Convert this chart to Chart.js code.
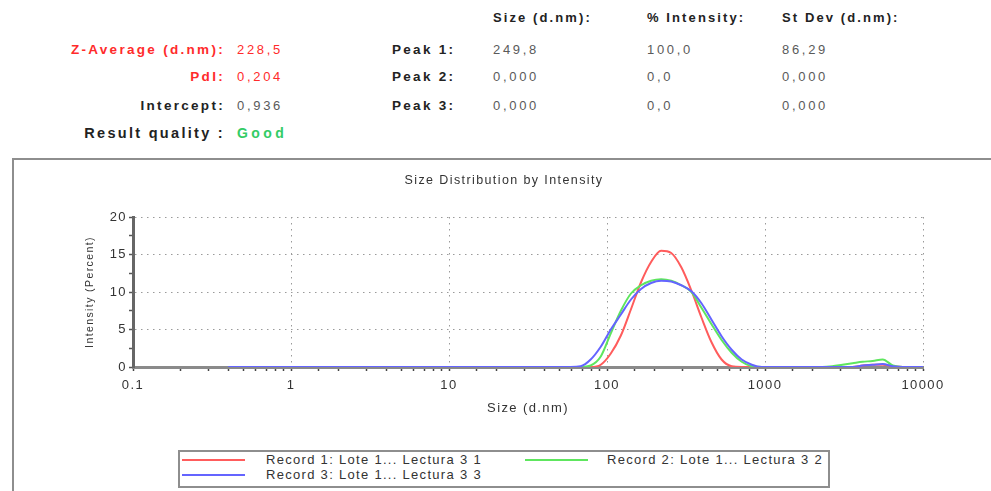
<!DOCTYPE html>
<html>
<head>
<meta charset="utf-8">
<script src="https://cdn.jsdelivr.net/npm/chart.js@4/dist/chart.umd.min.js"></script>
<style>
  html, body { margin:0; padding:0; background:#fff; width:991px; height:491px; overflow:hidden;
    font-family:"Liberation Sans", Arial, sans-serif; }
  .t { position:absolute; white-space:nowrap; font-size:13px; line-height:16px; }
  .b { font-weight:bold; color:#222; letter-spacing:2.3px; font-size:13.5px; }
  .h { font-weight:bold; color:#222; letter-spacing:2.1px; }
  .v { color:#5a5a5a; letter-spacing:2.7px; }
  .red { color:#ff2b2b; }
  .grn { color:#33cc66; font-weight:bold; letter-spacing:3.4px; font-size:14px; }
  .rq { font-size:14.5px; letter-spacing:2.3px; }
  #panel { position:absolute; left:12px; top:158px; width:1000px; height:400px;
    border:2px solid #8e8e8e; box-sizing:border-box; }
  #wrap { position:absolute; left:0; top:158px; width:991px; height:333px; }
  #legend { position:absolute; left:178px; top:450px; width:652px; height:38px;
    border:2px solid #8e8e8e; box-sizing:border-box; background:#fff; }
  .li { position:absolute; font-size:13px; line-height:16px; color:#333; letter-spacing:1.3px; white-space:nowrap; }
  .ll { position:absolute; height:2px; }
</style>
</head>
<body>
<div id="panel"></div>
<div id="header"></div>
<div id="wrap"><canvas id="c"></canvas></div>
<div id="legend"></div>
<script>
// ---------- data ----------
const sizes = [0.4, 0.4632, 0.5365, 0.6213, 0.7195, 0.8332, 0.9649, 1.117, 1.294, 1.499,
  1.736, 2.01, 2.328, 2.696, 3.122, 3.615, 4.187, 4.849, 5.615, 6.503,
  7.531, 8.721, 10.1, 11.7, 13.54, 15.69, 18.17, 21.04, 24.36, 28.21,
  32.67, 37.84, 43.82, 50.75, 58.77, 68.06, 78.82, 91.28, 105.7, 122.4,
  141.8, 164.2, 190.1, 220.2, 255.0, 295.3, 342.0, 396.1, 458.7, 531.2,
  615.1, 712.4, 825.0, 955.4, 1106, 1281, 1484, 1718, 1990, 2305,
  2669, 3091, 3580, 4145, 4801, 5560, 6439, 7456, 8635, 10000];

const record1 = [0,0,0,0,0,0,0,0,0,0,
  0,0,0,0,0,0,0,0,0,0,
  0,0,0,0,0,0,0,0,0,0,
  0,0,0,0,0,0,0,0.3,1.8,4.2,
  7.7,11.3,14.0,15.5,15.2,13.3,10.2,6.6,3.3,1.0,
  0.1,0,0,0,0,0,0,0,0,0,
  0,0,0,0.2,0.3,0.3,0.1,0,0,0];

const record2 = [0,0,0,0,0,0,0,0,0,0,
  0,0,0,0,0,0,0,0,0,0,
  0,0,0,0,0,0,0,0,0,0,
  0,0,0,0,0,0,0.2,1.4,4.5,7.5,
  9.8,10.9,11.5,11.7,11.5,10.9,10.0,7.9,5.7,3.6,
  1.9,0.7,0.1,0,0,0,0,0,0,0,
  0.1,0.3,0.5,0.7,0.8,1.0,0.2,0,0,0];

const record3 = [0,0,0,0,0,0,0,0,0,0,
  0,0,0,0,0,0,0,0,0,0,
  0,0,0,0,0,0,0,0,0,0,
  0,0,0,0,0,0.1,1.0,2.7,5.0,7.0,
  9.0,10.4,11.2,11.5,11.4,10.9,10.1,8.5,6.3,4.1,
  2.3,1.0,0.3,0,0,0,0,0,0,0,
  0,0,0,0.2,0.3,0.4,0.1,0,0,0];

const seriesLabels = ["Record 1: Lote 1... Lectura 3 1", "Record 2: Lote 1... Lectura 3 2", "Record 3: Lote 1... Lectura 3 3"];
const seriesColors = ["#ff5c5c", "#5ee65e", "#6464ff"];
const xTickLabels = ["0.1", "1", "10", "100", "1000", "10000"];
const yTickLabels = ["0", "5", "10", "15", "20"];

const summaryLabels = ["Z-Average (d.nm):", "PdI:", "Intercept:", "Result quality :"];
const summaryValues = ["228,5", "0,204", "0,936", "Good"];
const peakLabels = ["Peak 1:", "Peak 2:", "Peak 3:"];
const peakHeaders = ["Size (d.nm):", "% Intensity:", "St Dev (d.nm):"];
const peakSize = ["249,8", "0,000", "0,000"];
const peakIntensity = ["100,0", "0,0", "0,0"];
const peakStDev = ["86,29", "0,000", "0,000"];

// ---------- header (HTML text) ----------
const H = document.getElementById('header');
function addText(txt, cls, x, cy, right) {
  const d = document.createElement('div');
  d.className = 't ' + cls;
  d.textContent = txt;
  d.style.top = (cy - 8) + 'px';
  if (right) d.style.right = (991 - x) + 'px'; else d.style.left = x + 'px';
  H.appendChild(d);
  return d;
}
const sumY = [50, 77, 106, 133];
const sumCls = ['b red', 'b red', 'b', 'b rq'];
const valCls = ['v red', 'v red', 'v', 'grn'];
summaryLabels.forEach((s, i) => addText(s, sumCls[i], 225, sumY[i], true));
summaryValues.forEach((s, i) => addText(s, valCls[i], 237, sumY[i], false));
peakLabels.forEach((s, i) => addText(s, 'b', 392, sumY[i], false));
const colX = [493, 647, 782];
peakHeaders.forEach((s, i) => addText(s, 'h', colX[i], 18, false));
[peakSize, peakIntensity, peakStDev].forEach((col, ci) =>
  col.forEach((s, i) => addText(s, 'v', colX[ci], sumY[i], false)));

// ---------- legend (HTML) ----------
const L = document.getElementById('legend');
const legPos = [[2, 8, 86], [345, 8, 427], [2, 23, 86]]; // lineLeft, centerY, textLeft (relative to box)
seriesLabels.forEach((lab, i) => {
  const [lx, cy, tx] = legPos[i];
  const ln = document.createElement('div');
  ln.className = 'll';
  ln.style.left = lx + 'px'; ln.style.width = '63px';
  ln.style.top = (cy - 1) + 'px';
  ln.style.background = seriesColors[i];
  L.appendChild(ln);
  const t = document.createElement('div');
  t.className = 'li';
  t.style.left = tx + 'px'; t.style.top = (cy - 8) + 'px';
  t.textContent = lab;
  L.appendChild(t);
});

// ---------- chart ----------
const isPow10 = v => v > 0 && Math.abs(Math.log10(v) - Math.round(Math.log10(v))) < 1e-6;
const spacing = {
  id: 'spacing',
  beforeLayout(chart) { chart.ctx.letterSpacing = '1.4px'; },
  beforeDraw(chart) { chart.ctx.letterSpacing = '1.4px'; }
};

const recs = [record1, record2, record3];
const datasets = recs.map((r, i) => ({
  label: seriesLabels[i],
  data: sizes.map((s, k) => ({ x: s, y: r[k] })),
  borderColor: seriesColors[i],
  backgroundColor: seriesColors[i],
  borderWidth: 2,
  pointRadius: 0,
  fill: false,
  cubicInterpolationMode: 'monotone',
  order: 3 - i
}));

new Chart(document.getElementById('c'), {
  type: 'line',
  data: { datasets },
  plugins: [spacing],
  options: {
    responsive: true,
    maintainAspectRatio: false,
    animation: false,
    layout: { padding: { left: 85, right: 68, top: 0, bottom: 0 } },
    plugins: {
      legend: { display: false },
      tooltip: { enabled: false },
      title: {
        display: true,
        text: 'Size Distribution by Intensity',
        color: '#333',
        font: { family: '"Liberation Sans", Arial, sans-serif', size: 12.5, weight: 'normal' },
        padding: { top: 15, bottom: 29 }
      }
    },
    scales: {
      x: {
        type: 'logarithmic',
        min: 0.1,
        max: 10000,
        afterFit(s) { s.height = 124; },
        title: {
          display: true, text: 'Size (d.nm)', color: '#333',
          font: { family: '"Liberation Sans", Arial, sans-serif', size: 13 },
          padding: { top: 0, bottom: 75 }
        },
        border: { display: true, color: '#8a8a8a', width: 3, dash: c => c.tick ? [1.5, 4.5] : [] },
        grid: {
          color: c => (c.tick && isPow10(c.tick.value) && c.tick.value > 0.11) ? '#9a9a9a' : 'rgba(0,0,0,0)',
          lineWidth: 1,
          tickColor: '#444',
          tickLength: 4,
          tickWidth: 1.5
        },
        ticks: {
          autoSkip: false, maxRotation: 0, minRotation: 0,
          padding: 7,
          color: '#333',
          font: { family: '"Liberation Sans", Arial, sans-serif', size: 13 },
          callback: v => {
            if (!isPow10(v)) return '';
            const idx = Math.round(Math.log10(v)) + 1;
            return xTickLabels[idx] !== undefined ? xTickLabels[idx] : '';
          }
        }
      },
      y: {
        min: 0,
        max: 20,
        afterFit(s) { s.width = 48; },
        title: {
          display: true, text: 'Intensity (Percent)', color: '#333',
          font: { family: '"Liberation Sans", Arial, sans-serif', size: 10.5 },
          padding: { top: -1, bottom: 0 }
        },
        border: { display: true, color: '#666', width: 3, dash: c => c.tick ? [1.5, 4.5] : [] },
        grid: {
          color: c => (c.tick && c.tick.value % 5 === 0 && c.tick.value > 0) ? '#9a9a9a' : 'rgba(0,0,0,0)',
          lineWidth: 1,
          tickColor: '#555',
          tickLength: 4,
          tickWidth: 1.5
        },
        ticks: {
          stepSize: 2.5,
          padding: 2,
          color: '#333',
          font: { family: '"Liberation Sans", Arial, sans-serif', size: 13 },
          callback: v => (v % 5 === 0) ? yTickLabels[v / 5] : ''
        }
      }
    }
  }
});
</script>
</body>
</html>
